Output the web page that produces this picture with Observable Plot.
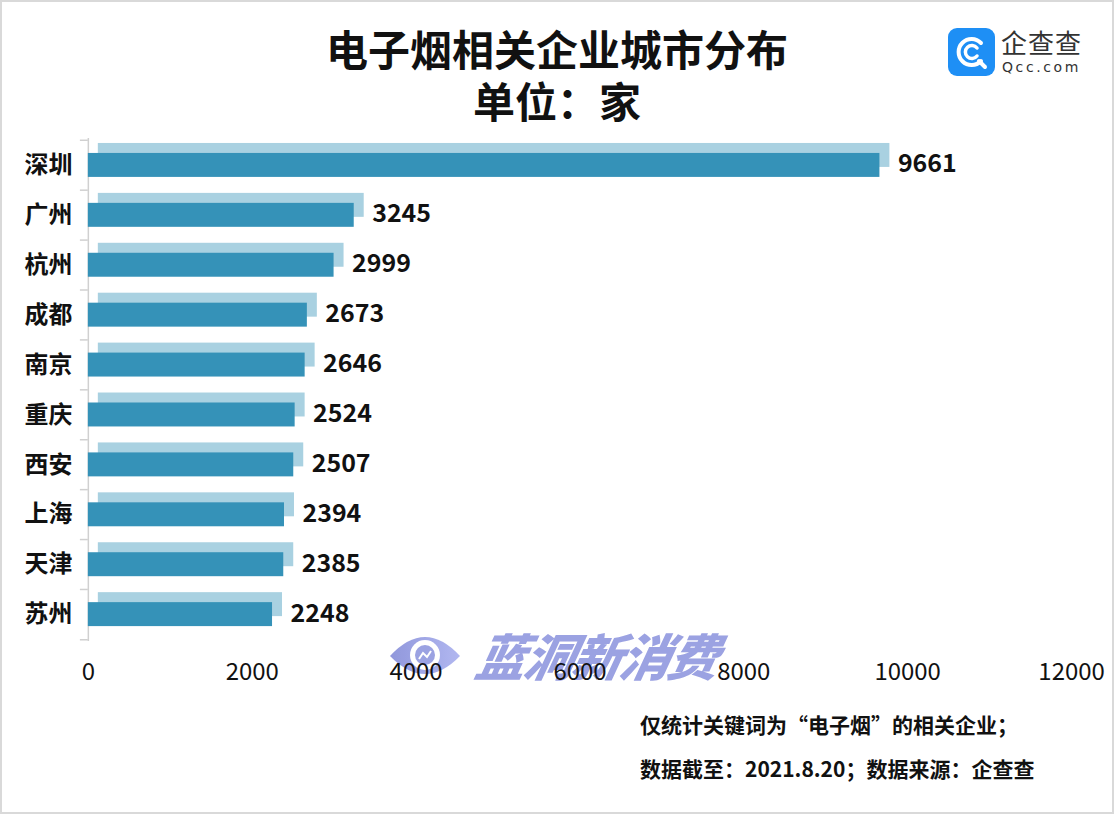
<!DOCTYPE html>
<html><head><meta charset="utf-8">
<script src="https://cdn.jsdelivr.net/npm/d3@7"></script>
<script src="https://cdn.jsdelivr.net/npm/@observablehq/plot@0.6"></script>
<style>
body{margin:0;background:#fff;font-family:"Noto Sans CJK SC","Noto Sans",sans-serif;}
#wrap{position:relative;width:1114px;height:814px;box-sizing:border-box;border:2px solid #d9d9d9;overflow:hidden;background:#fff}
#title{position:absolute;left:-2px;top:20px;width:1114px;text-align:center;font-size:42px;font-weight:700;line-height:52px;color:#111}
#chart{position:absolute;left:-2px;top:123px;z-index:2}
#chart svg{background:transparent}
#wm{position:absolute;left:386px;top:616px;z-index:1;display:flex;align-items:center;opacity:0.85}
#wm span{font-size:50px;font-weight:900;font-style:italic;color:#8a92dd;letter-spacing:-2px;margin-left:16px;transform:skewX(-12deg)}
#logo{position:absolute;left:946px;top:26px}
#logo .t1{position:absolute;left:53px;top:1px;font-size:26px;line-height:26px;color:#333;white-space:nowrap;letter-spacing:1px}
#logo .t2{position:absolute;left:54px;top:32px;font-size:14px;line-height:14px;color:#333;white-space:nowrap;letter-spacing:2.6px;font-family:"DejaVu Sans",sans-serif}
#note{position:absolute;left:638px;top:700px;font-size:21px;font-weight:700;line-height:44px;color:#111;white-space:nowrap}
</style></head>
<body>
<div id="wrap">
  <div id="title">电子烟相关企业城市分布<br>单位：家</div>
  <div id="logo">
    <svg width="47" height="48" viewBox="0 0 47 48">
      <rect x="0" y="0" width="47" height="48" rx="9" fill="#1e8ff5"/>
      <path d="M33 15 A13 13 0 1 0 33 33" fill="none" stroke="#fff" stroke-width="4" stroke-linecap="round"/>
      <path d="M29 20 A6.5 6.5 0 1 0 29 28" fill="none" stroke="#fff" stroke-width="3.5" stroke-linecap="round"/>
      <path d="M31 33 L37 39" stroke="#fff" stroke-width="4" stroke-linecap="round"/>
    </svg>
    <div class="t1">企查查</div>
    <div class="t2">Qcc.com</div>
  </div>
  <div id="wm">
    <svg width="74" height="56" viewBox="0 0 74 56">
      <defs><linearGradient id="g" x1="0" x2="1"><stop offset="0" stop-color="#7e86d6"/><stop offset="1" stop-color="#a4abee"/></linearGradient></defs>
      <path d="M2 30 Q37 -8 72 30 Q37 66 2 30 Z" fill="url(#g)"/>
      <circle cx="37" cy="29" r="15" fill="#fff"/>
      <circle cx="37" cy="29" r="10" fill="#8a92dd"/>
      <path d="M31 33 L35 27 L39 31 L43 25" stroke="#fff" stroke-width="2" fill="none"/>
    </svg>
    <span>蓝洞新消费</span>
  </div>
  <div id="chart"></div>
  <div id="note">仅统计关键词为“电子烟”的相关企业；<br>数据截至：2021.8.20；数据来源：企查查</div>
</div>
<script>
const cities = ["深圳","广州","杭州","成都","南京","重庆","西安","上海","天津","苏州"];
const counts = [9661,3245,2999,2673,2646,2524,2507,2394,2385,2248];
const xTicks = [0,2000,4000,6000,8000,10000,12000];

const data = cities.map((c,i)=>({city:c, count:counts[i]}));
const lastCity = [cities[cities.length-1]];

const chart = Plot.plot({
  width:1114,
  height:565,
  marginTop:13,
  marginBottom:48,
  marginLeft:88,
  marginRight:41,
  style:{fontFamily:'"Noto Sans CJK SC","Noto Sans",sans-serif', color:"#111", background:"transparent", overflow:"visible"},
  x:{domain:[0,12000]},
  y:{domain:cities, paddingInner:0.52, paddingOuter:0.26},
  marks:[
    Plot.ruleX([0],{stroke:"#d0d0d0", strokeWidth:1.5}),
    Plot.ruleY(data,{y:"city", x1:-97, x2:0, dy:-25.2, stroke:"#d0d0d0", strokeWidth:1.5}),
    Plot.ruleY(lastCity,{y:d=>d, x1:-97, x2:0, dy:25.2, stroke:"#d0d0d0", strokeWidth:1.5}),
    Plot.barX(data,{y:"city", x:"count", fill:"#a9d1e1", dx:10, dy:-10}),
    Plot.barX(data,{y:"city", x:"count", fill:"#3592b8"}),
    Plot.text(data,{y:"city", x:"count", text:d=>String(d.count), textAnchor:"start", dx:18, dy:-1, fontSize:25, fontWeight:700, fill:"#111"}),
    Plot.axisY({tickSize:0, tickPadding:16, fontSize:24, fontWeight:700, label:null}),
    Plot.axisX({ticks:xTicks, tickSize:0, tickPadding:21, fontSize:24, tickFormat:d3.format("d"), label:null})
  ]
});
document.getElementById("chart").appendChild(chart);
</script>
</body></html>
